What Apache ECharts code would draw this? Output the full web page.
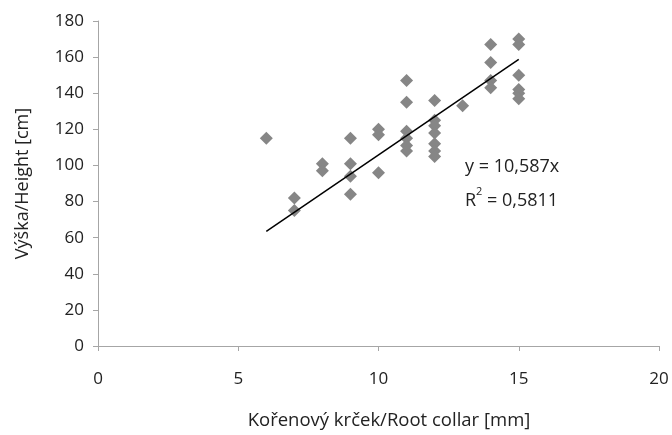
<!DOCTYPE html>
<html>
<head>
<meta charset="utf-8">
<script src="https://cdn.jsdelivr.net/npm/echarts@6/dist/echarts.min.js"></script>
<style>html,body{margin:0;padding:0;background:#fff}#c{width:672px;height:435px}</style>
</head>
<body>
<div id="c"></div>
<script>
var rootCollar = [6, 7, 7, 8, 8, 9, 9, 9, 9, 10, 10, 10, 11, 11, 11, 11, 11, 11, 12, 12, 12, 12, 12, 12, 12, 13, 14, 14, 14, 14, 15, 15, 15, 15, 15, 15];
var height = [115, 82, 75, 101, 97, 115, 101, 94, 84, 120, 117, 96, 147, 135, 119, 115, 111, 108, 136, 125, 122, 118, 112, 108, 105, 133, 167, 157, 147, 143, 170, 167, 150, 142, 140, 137];
var trendSlope = 10.587;
var trendRange = [6, 15];
var xTicks = [0, 5, 10, 15, 20];
var yTicks = [0, 20, 40, 60, 80, 100, 120, 140, 160, 180];

var points = rootCollar.map(function (x, i) { return [x, height[i]]; });
var trend = trendRange.map(function (x) { return [x, trendSlope * x]; });

var font = '"Open Sans", "Liberation Sans", sans-serif';
var chart = echarts.init(document.getElementById('c'));
chart.setOption({
  animation: false,
  backgroundColor: '#fff',
  grid: { left: 98, right: 13, top: 21, bottom: 88 },
  xAxis: {
    type: 'value', min: xTicks[0], max: xTicks[xTicks.length - 1], interval: 5,
    name: 'Kořenový krček/Root collar [mm]', nameLocation: 'middle', nameGap: 65,
    nameTextStyle: { fontFamily: font, fontSize: 18.5, color: '#222', padding: [0, 0, 0, 21] },
    axisLine: { show: true, lineStyle: { color: '#a6a6a6' } },
    axisTick: { show: true, length: 5, lineStyle: { color: '#a6a6a6' } },
    axisLabel: { fontFamily: font, fontSize: 17, color: '#222', margin: 25 },
    splitLine: { show: false }
  },
  yAxis: {
    type: 'value', min: yTicks[0], max: yTicks[yTicks.length - 1], interval: 20,
    name: 'Výška/Height [cm]', nameLocation: 'middle', nameGap: 66, nameRotate: 90,
    nameTextStyle: { fontFamily: font, fontSize: 18, color: '#222' },
    axisLine: { show: true, lineStyle: { color: '#a6a6a6' } },
    axisTick: { show: true, length: 5, lineStyle: { color: '#a6a6a6' } },
    axisLabel: { fontFamily: font, fontSize: 17, color: '#222', margin: 14 },
    splitLine: { show: false }
  },
  series: [
    {
      type: 'scatter', data: points, symbol: 'diamond', symbolSize: 13,
      itemStyle: { color: '#868686', opacity: 1 }
    },
    {
      type: 'line', data: trend, symbol: 'none',
      lineStyle: { color: '#000', width: 1.5 }, z: 3
    }
  ],
  graphic: [
    { type: 'text', left: 465, top: 158, style: { text: 'y = 10,587x', fontFamily: font, fontSize: 18, fill: '#222' } },
    { type: 'text', left: 465, top: 186, style: {
        text: '{a|R}{s|2}{a| = 0,5811}',
        rich: {
          a: { fontFamily: font, fontSize: 18, fill: '#222', color: '#222', verticalAlign: 'bottom', lineHeight: 24 },
          s: { fontFamily: font, fontSize: 11, fill: '#222', color: '#222', verticalAlign: 'top', lineHeight: 24, padding: [0, 0, 10, 0] }
        }
      } }
  ]
});
</script>
</body>
</html>
